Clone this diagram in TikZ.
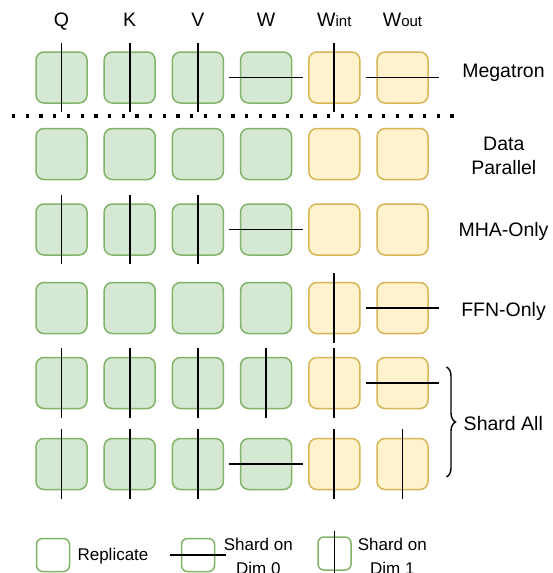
\documentclass[tikz,border=0pt]{standalone}
\usepackage{fontspec}
\setmainfont{Liberation Sans}
\usetikzlibrary{decorations.pathreplacing}
\definecolor{gfill}{HTML}{D5E8D4}
\definecolor{gdraw}{HTML}{82B366}
\definecolor{yfill}{HTML}{FFF2CC}
\definecolor{ydraw}{HTML}{D6B656}
\begin{document}
\begin{tikzpicture}[x=1pt,y=-1pt,
  cell/.style={rounded corners=8pt, minimum width=51pt, minimum height=51pt, line width=1.5pt, inner sep=0pt},
  gcell/.style={cell, draw=gdraw, fill=gfill},
  ycell/.style={cell, draw=ydraw, fill=yfill},
  lcell/.style={rounded corners=6pt, minimum width=33pt, minimum height=33pt, line width=1.5pt, inner sep=0pt, draw=gdraw, fill=white},
  cutline/.style={line width=1.8pt, black},
  lab/.style={font=\fontsize{19.5}{24}\selectfont, anchor=base, inner sep=0pt},
  leg/.style={font=\fontsize{17}{24}\selectfont, anchor=base, inner sep=0pt},
]
\path[use as bounding box] (0,0) rectangle (553,573);
\fill[white] (0,0) rectangle (553,573);

% column headers
\node[lab] (hq) at (61.5,26) {Q};
\node[lab] (hk) at (129.7,26) {K};
\node[lab] (hv) at (197.9,26) {V};
\node[lab] (hw) at (266.1,26) {W};
\node[lab] (hwi) at (334.3,26) {W{\fontsize{15}{15}\selectfont int}};
\node[lab] (hwo) at (402.5,26) {W{\fontsize{15}{15}\selectfont out}};

% grid of parameter blocks
\foreach \r/\yy/\codes in {1/77.5/{v,v,v,h,v,h},
                           2/154/{n,n,n,n,n,n},
                           3/229.5/{v,v,v,h,n,n},
                           4/308/{n,n,n,n,v,h},
                           5/383/{v,v,v,v,v,h},
                           6/464/{v,v,v,h,v,v}}{
  \foreach \c [count=\i] in \codes {
    \pgfmathsetmacro\xx{61.5+68.2*(\i-1)}
    \ifnum\i<5 \def\st{gcell}\else\def\st{ycell}\fi
    \node[\st] (b\r-\i) at (\xx,\yy) {};
    \if\c v \draw[cutline] ([yshift=8.5pt]b\r-\i.north) -- ([yshift=-8.5pt]b\r-\i.south);\fi
    \if\c h \draw[cutline] ([xshift=-10.5pt]b\r-\i.west) -- ([xshift=10.5pt]b\r-\i.east);\fi
  }
}

% separator
\coordinate (sepL) at (12,116);
\coordinate (sepR) at (454,116);
\draw[line width=3.3pt, dash pattern=on 3.3pt off 10.4pt] (sepL) -- (sepR);

% row labels
\node[lab] (lmeg) at (503.5,77) {Megatron};
\node[lab] (ldp1) at (503.8,150) {Data};
\node[lab] (ldp2) at (503.8,174) {Parallel};
\node[lab] (lmha) at (503.5,236.7) {MHA-Only};
\node[lab] (lffn) at (503.5,316.2) {FFN-Only};
\node[lab] (lsa) at (503.3,430) {Shard All};

% brace
\coordinate (brT) at (446.5,367);
\coordinate (brB) at (446.5,477);
\draw[decorate, decoration={brace, amplitude=9pt}, line width=1.4pt] (brT) -- (brB);

% legend
\node[lcell] (lg1) at (53,555) {};
\node[leg] (lgt1) at (113,560.7) {Replicate};
\node[lcell] (lg2) at (198,555) {};
\draw[cutline] ([xshift=-11pt]lg2.west) -- ([xshift=11pt]lg2.east);
\node[leg] (lgt2a) at (258.3,550.7) {Shard on};
\node[leg] (lgt2b) at (258.3,574.7) {Dim 0};
\node[lcell] (lg3) at (334.5,553.5) {};
\draw[cutline] ([yshift=5pt]lg3.north) -- ([yshift=-8pt]lg3.south);
\node[leg] (lgt3a) at (392.3,550.7) {Shard on};
\node[leg] (lgt3b) at (392.3,574.7) {Dim 1};
\end{tikzpicture}
\end{document}
